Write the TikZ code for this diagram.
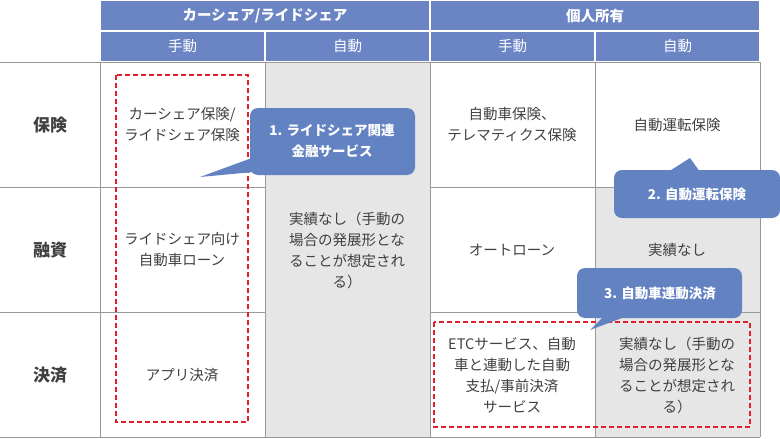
\documentclass[tikz,border=0pt]{standalone}
\usepackage{fontspec}
\setmainfont{Noto Sans CJK JP}
\usetikzlibrary{positioning}
\definecolor{hdblue}{HTML}{6B84C4}
\definecolor{callblue}{HTML}{6382C2}
\definecolor{cellgray}{HTML}{E6E6E6}
\definecolor{txtgray}{HTML}{404040}
\definecolor{dashred}{HTML}{E0202A}
\tikzset{
  hd/.style={fill=hdblue,draw=white,line width=1.5pt,text=white,font=\fontsize{14.5}{16}\selectfont},
  cell/.style={text=txtgray,align=center,font=\fontsize{14.5}{21}\selectfont},
  rowlab/.style={text=txtgray,font=\bfseries\fontsize{17}{19}\selectfont},
  callout/.style={fill=callblue,rounded corners=8pt},
  calltext/.style={text=white,align=center,font=\bfseries\fontsize{13.5}{21}\selectfont},
  redbox/.style={draw=dashred,line width=1.2pt,dash pattern=on 5pt off 3pt},
  gridline/.style={draw=gray!80,line width=0.6pt}
}
\begin{document}
\begin{tikzpicture}[x=1pt,y=-1pt]
  \useasboundingbox (0,0) rectangle (780,439);
  % header
  \path[hd] (100,0) rectangle (430,31) node[midway,font=\bfseries\fontsize{14.5}{16}\selectfont] (hcar) {カーシェア/ライドシェア};
  \path[hd] (430,0) rectangle (760,31) node[midway,font=\bfseries\fontsize{14.5}{16}\selectfont] (hown) {個人所有};
  \path[hd] (100,31) rectangle (265,62) node[midway] (h1) {手動};
  \path[hd] (265,31) rectangle (430,62) node[midway] (h2) {自動};
  \path[hd] (430,31) rectangle (595,62) node[midway] (h3) {手動};
  \path[hd] (595,31) rectangle (760,62) node[midway] (h4) {自動};
  % gray cells
  \fill[cellgray] (265,62) rectangle (430,437);
  \fill[cellgray] (595,187) rectangle (760,437);
  % grid
  \draw[gridline] (0,62) -- (760,62);
  \draw[gridline] (0,187) -- (265,187) (430,187) -- (760,187);
  \draw[gridline] (0,312) -- (265,312) (430,312) -- (760,312);
  \draw[gridline] (0,437) -- (760,437);
  \foreach \x in {100,265,430,595,760} \draw[gridline] (\x,62) -- (\x,437);
  % row labels
  \node[rowlab] (rins) at (50,125) {保険};
  \node[rowlab] (rfin) at (50,250) {融資};
  \node[rowlab] (rpay) at (50,375) {決済};
  % cells
  \node[cell] (c11) at (182,125) {カーシェア保険/\\ライドシェア保険};
  \node[cell] (c21) at (182,250) {ライドシェア向け\\自動車ローン};
  \node[cell] (c31) at (182,375) {アプリ決済};
  \node[cell] (c2) at (347,250) {実績なし（手動の\\場合の発展形とな\\ることが想定され\\る）};
  \node[cell] (c13) at (512,125) {自動車保険、\\テレマティクス保険};
  \node[cell] (c23) at (512,250) {オートローン};
  \node[cell] (c33) at (512,375) {ETCサービス、自動\\車と連動した自動\\支払/事前決済\\サービス};
  \node[cell] (c14) at (677,125) {自動運転保険};
  \node[cell] (c24) at (677,250) {実績なし};
  \node[cell] (c34) at (677,375) {実績なし（手動の\\場合の発展形とな\\ることが想定され\\る）};
  % dashed boxes
  \draw[redbox] (116,75) rectangle (248,422);
  \draw[redbox] (434,322) rectangle (750,427);
  % callouts
  \fill[callout] (250,108) rectangle (415,175);
  \fill[callblue] (260,155) -- (200,177) -- (275,170) -- cycle;
  \node[calltext] (k1) at (332,141) {1. ライドシェア関連\\金融サービス};
  \fill[callout] (614,170) rectangle (780,218);
  \fill[callblue] (668,172) -- (690,158) -- (700,172) -- cycle;
  \node[calltext] (k2) at (697,194) {2. 自動運転保険};
  \fill[callout] (577,268) rectangle (742,318);
  \fill[callblue] (605,315) -- (590,330) -- (630,315) -- cycle;
  \node[calltext] (k3) at (660,293) {3. 自動車連動決済};
\end{tikzpicture}
\end{document}
